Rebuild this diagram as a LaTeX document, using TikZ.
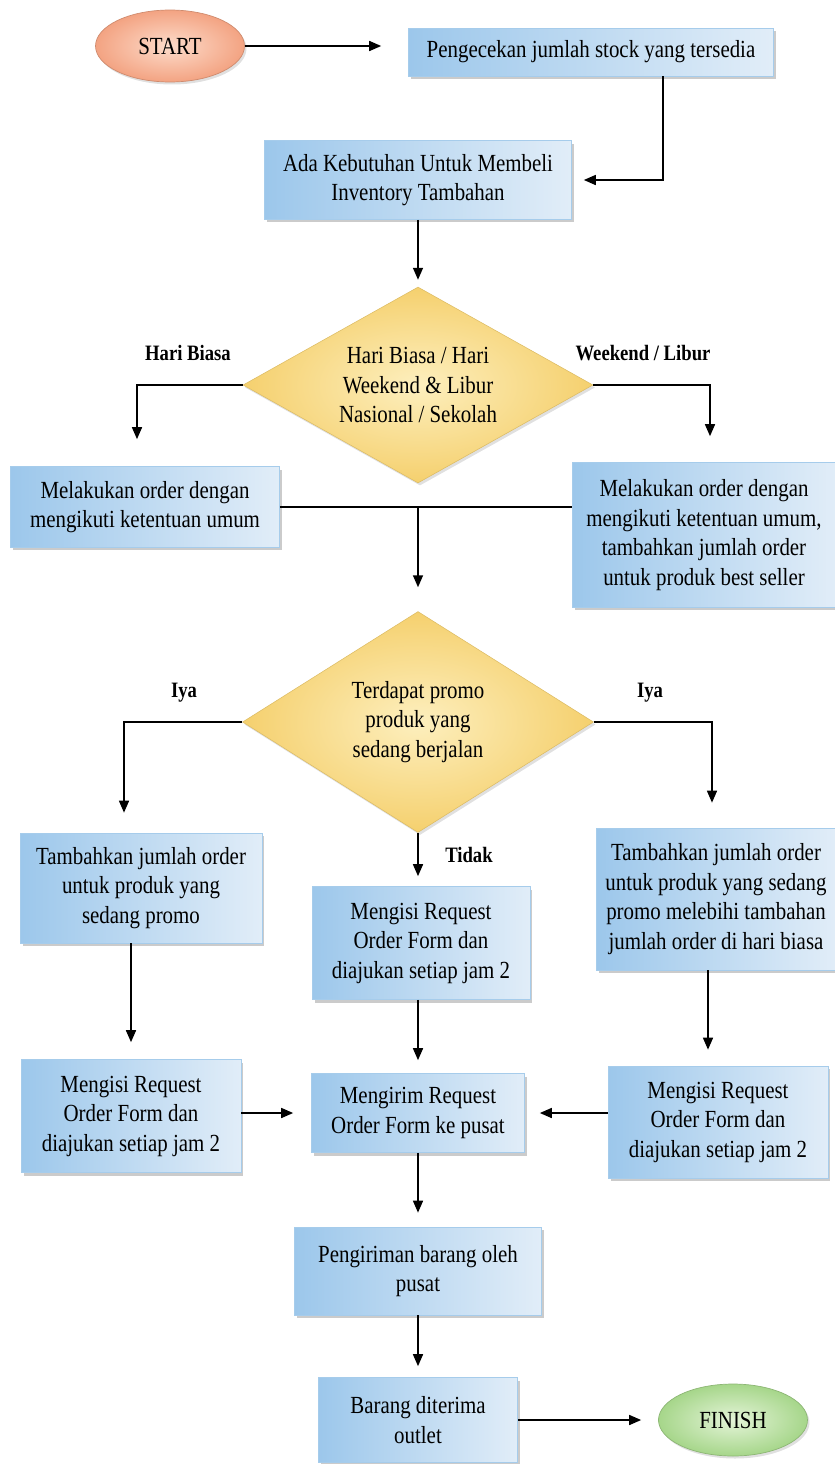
\documentclass[tikz,border=0pt]{standalone}
\usepackage{fontspec}
\setmainfont[FakeStretch=0.85]{Liberation Serif}
\usepackage{tikz}
\usetikzlibrary{positioning,arrows.meta,shapes.geometric,shadows,calc}
\definecolor{boxBlue}{HTML}{9CC7EB}
\definecolor{boxBlueLight}{HTML}{E1EDF8}
\definecolor{boxEdge}{HTML}{A6CCEB}
\definecolor{decGold}{HTML}{F5D06E}
\definecolor{decGoldLight}{HTML}{FDEFBE}
\definecolor{startOrange}{HTML}{F3A382}
\definecolor{startOrangeLight}{HTML}{FDDCCB}
\definecolor{finishGreen}{HTML}{A6D68A}
\definecolor{finishGreenLight}{HTML}{E4F4D8}

\begin{document}
\begin{tikzpicture}[
  x=0.02cm, y=-0.02cm,
  every node/.style={font=\fontsize{14}{16.8}\selectfont},
  process/.style={rectangle, left color=boxBlue, right color=boxBlueLight, draw=boxEdge,
                  line width=0.4pt, align=center, inner sep=2pt,
                  drop shadow={shadow xshift=0.05cm, shadow yshift=-0.06cm, fill=black!45, opacity=0.45}},
  decision/.style={diamond, inner color=decGoldLight, outer color=decGold, draw=decGold!90!black,
                   line width=0.3pt, align=center, inner sep=0pt,
                   drop shadow={shadow xshift=0.04cm, shadow yshift=-0.05cm, fill=black!35, opacity=0.35}},
  terminal/.style={ellipse, align=center, inner sep=0pt, minimum width=2.98cm, minimum height=1.44cm,
                   drop shadow={shadow xshift=0.04cm, shadow yshift=-0.05cm, fill=black!35, opacity=0.35}},
  branch/.style={font=\bfseries\fontsize{12.5}{14}\selectfont},
  flow/.style={-{Triangle[length=2.4mm,width=2mm]}, line width=0.9pt, shorten >=0.3cm},
  link/.style={line width=0.9pt}
]
  \useasboundingbox (0,0) rectangle (835,1464);

  % terminals
  \node[terminal, inner color=startOrangeLight, outer color=startOrange, draw=startOrange!85!black] (start) at (170,46) {START};
  \node[terminal, inner color=finishGreenLight, outer color=finishGreen, draw=finishGreen!85!black] (finish) at (733,1420) {FINISH};

  % top column
  \node[process, minimum width=7.3cm, minimum height=0.96cm] (check) at (591,52) {Pengecekan jumlah stock yang tersedia};
  \node[process, minimum width=6.14cm, minimum height=1.58cm] (need) at (418,180) {Ada Kebutuhan Untuk Membeli\\Inventory Tambahan};
  \node[decision, minimum width=7cm, minimum height=3.92cm, shape aspect=1.79] (day) at (418,385) {Hari Biasa / Hari\\Weekend \& Libur\\Nasional / Sekolah};

  % day branches
  \node[process, minimum width=5.38cm, minimum height=1.62cm] (normal) at (145,507) {Melakukan order dengan\\mengikuti ketentuan umum};
  \node[process, minimum width=5.26cm, minimum height=2.9cm] (weekend) at (704,535) {Melakukan order dengan\\mengikuti ketentuan umum,\\tambahkan jumlah order\\untuk produk best seller};
  \node[branch] (lblNormal) at (188,353) {Hari Biasa};
  \node[branch] (lblWeekend) at (643,353) {Weekend / Libur};

  % promo decision
  \node[decision, minimum width=7.02cm, minimum height=4.42cm, shape aspect=1.59] (promo) at (418,722) {Terdapat promo\\produk yang\\sedang berjalan};
  \node[branch] (lblYesL) at (184,693) {Iya};
  \node[branch] (lblYesR) at (650,693) {Iya};
  \node[branch] (lblNo) at (469,855) {Tidak};

  \node[process, minimum width=4.84cm, minimum height=2.2cm] (addL) at (141,888) {Tambahkan jumlah order\\untuk produk yang\\sedang promo};
  \node[process, minimum width=4.36cm, minimum height=2.26cm] (formM) at (421,943) {Mengisi Request\\Order Form dan\\diajukan setiap jam 2};
  \node[process, minimum width=4.78cm, minimum height=2.84cm] (addR) at (716,899) {Tambahkan jumlah order\\untuk produk yang sedang\\promo melebihi tambahan\\jumlah order di hari biasa};

  % forms
  \node[process, minimum width=4.4cm, minimum height=2.26cm] (formL) at (131,1116) {Mengisi Request\\Order Form dan\\diajukan setiap jam 2};
  \node[process, minimum width=4.26cm, minimum height=1.58cm] (send) at (418,1113) {Mengirim Request\\Order Form ke pusat};
  \node[process, minimum width=4.4cm, minimum height=2.24cm] (formR) at (718,1122) {Mengisi Request\\Order Form dan\\diajukan setiap jam 2};

  % delivery
  \node[process, minimum width=4.94cm, minimum height=1.76cm] (ship) at (418,1271) {Pengiriman barang oleh\\pusat};
  \node[process, minimum width=3.98cm, minimum height=1.7cm] (recv) at (418,1420) {Barang diterima\\outlet};

  % connectors
  \draw[flow, shorten >=0.54cm] (start) -- (start -| check.west);
  \draw[flow, shorten >=0.24cm] ([xshift=1.44cm]check.south) |- (need.east);
  \draw[flow, shorten >=0.14cm] (need) -- (day);
  \draw[flow, shorten >=0.54cm] (day.west) -| ([xshift=-0.16cm]normal.north);
  \draw[flow, shorten >=0.52cm] (day.east) -| ([xshift=0.12cm]weekend.north);
  \draw[link] (normal.east) -- (normal.east -| weekend.west);
  \coordinate (merge) at (normal.east -| promo.north);
  \draw[flow, shorten >=0.48cm] (merge) -- (promo);
  \draw[flow, shorten >=0.4cm] (promo.west) -| ([xshift=-0.34cm]addL.north);
  \draw[flow, shorten >=0.5cm] (promo.east) -| ([xshift=-0.08cm]addR.north);
  \draw[flow, shorten >=0.2cm] (promo.south) -- (promo.south |- formM.north);
  \draw[flow, shorten >=0.34cm] (formL.north |- addL.south) -- (formL.north);
  \draw[flow, shorten >=0.26cm] (formM.south -| send.north) -- (send.north);
  \draw[flow, shorten >=0.32cm] ([xshift=-0.16cm]addR.south) -- ([xshift=-0.16cm]addR.south |- formR.north);
  \draw[flow, shorten >=0.36cm] (formL.east |- send.west) -- (send.west);
  \draw[flow, shorten >=0.3cm] (formR.west |- send.east) -- (send.east);
  \draw[flow, shorten >=0.28cm] (send) -- (ship);
  \draw[flow, shorten >=0.22cm] (ship) -- (recv);
  \draw[flow, shorten >=0.34cm] (recv) -- (finish);
\end{tikzpicture}
\end{document}
